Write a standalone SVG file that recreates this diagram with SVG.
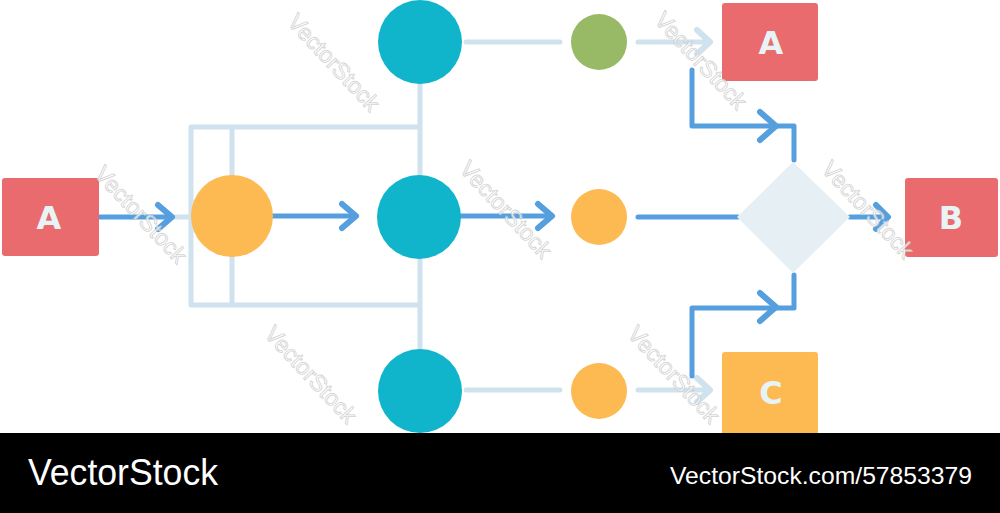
<svg xmlns="http://www.w3.org/2000/svg" width="1000" height="513" viewBox="0 0 1000 513">
<style>
.lt{stroke:#cfe2ee;stroke-width:5;fill:none;stroke-linecap:round;stroke-linejoin:round}
.bl{stroke:#559fdf;stroke-width:5;fill:none;stroke-linecap:round;stroke-linejoin:round}
.bh{stroke:#559fdf;stroke-width:6;fill:none;stroke-linecap:round;stroke-linejoin:round}
.lh{stroke:#cfe2ee;stroke-width:6;fill:none;stroke-linecap:round;stroke-linejoin:round}
.teal{fill:#10b5cb}.org{fill:#fdb952}.grn{fill:#98b966}.red{fill:#e96b6e}
.lbl{font-family:"DejaVu Sans","Liberation Sans",sans-serif;font-size:32px;font-weight:bold;fill:#e8f3f6;text-anchor:middle}
.wm{font-family:"Liberation Sans",sans-serif;font-size:23px;fill:#ffffff;stroke:#c8c8c8;stroke-width:0.8;opacity:0.8;text-anchor:middle}
.ft{font-family:"Liberation Sans",sans-serif;fill:#ffffff}
</style>
<rect width="1000" height="513" fill="#ffffff"/>
<g id="connectors">
<path class="lt" d="M191,127 H420 M191,305 H420 M191,127 V305 M232,127 V305 M420,80 V352 M175,217 H195"/>
<path class="lt" d="M466,42 H560 M466,390 H560 M638,42 H708 M638,390 H708"/>
<path class="lh" d="M697,30 L710,42 L697,54 M697,378 L710,390 L697,402"/>
<path class="bl" d="M99,217 H170 M272,216 H352 M461,216 H548 M638,217 H738 M850,217 H884"/>
<path class="bh" d="M158,205 L172,217 L158,229 M342,204 L356,216 L342,228 M538,204 L552,216 L538,228 M876,205 L888,217 L876,229"/>
<path class="bl" d="M692,70 V126 H794 V160 M692,376 V308 H794 V275"/>
<path class="bh" d="M760,112 L776,126 L760,140 M760,293 L776,307 L760,321"/>
</g>
<g id="nodeA1"><rect class="red" x="2" y="178" width="97" height="78" rx="3"/><text class="lbl" x="49" y="229">A</text></g>
<g id="nodeO1"><circle class="org" cx="232" cy="216" r="41"/></g>
<g id="nodeT1"><circle class="teal" cx="420" cy="42" r="42"/></g>
<g id="nodeT2"><circle class="teal" cx="419" cy="217" r="42"/></g>
<g id="nodeT3"><circle class="teal" cx="420" cy="391" r="42"/></g>
<g id="nodeG"><circle class="grn" cx="599" cy="42" r="28"/></g>
<g id="nodeO2"><circle class="org" cx="599" cy="217" r="28"/></g>
<g id="nodeO3"><circle class="org" cx="599" cy="391" r="28"/></g>
<g id="nodeA2"><rect class="red" x="722" y="3" width="96" height="78" rx="3"/><text class="lbl" x="771" y="54">A</text></g>
<g id="nodeD"><polygon points="793,162 850,217 793,273 737,217" fill="#e6f0f4"/></g>
<g id="nodeB"><rect class="red" x="905" y="178" width="93" height="79" rx="3"/><text class="lbl" x="951" y="229">B</text></g>
<g id="nodeC"><rect class="org" x="722" y="352" width="96" height="85" rx="3"/><text class="lbl" x="771" y="404">C</text></g>
<g id="watermarks">
<text class="wm" transform="translate(135,220) rotate(47)">VectorStock</text>
<text class="wm" transform="translate(500,215) rotate(47)">VectorStock</text>
<text class="wm" transform="translate(328,68) rotate(47)">VectorStock</text>
<text class="wm" transform="translate(695,66) rotate(47)">VectorStock</text>
<text class="wm" transform="translate(862,215) rotate(47)">VectorStock</text>
<text class="wm" transform="translate(305,380) rotate(47)">VectorStock</text>
<text class="wm" transform="translate(668,380) rotate(47)">VectorStock</text>
</g>
<rect x="0" y="433" width="1000" height="80" fill="#000000"/>
<text class="ft" x="28" y="485" font-size="36" textLength="190" lengthAdjust="spacingAndGlyphs">VectorStock</text>
<text class="ft" x="670" y="484" font-size="24" textLength="302" lengthAdjust="spacingAndGlyphs">VectorStock.com/57853379</text>
</svg>
